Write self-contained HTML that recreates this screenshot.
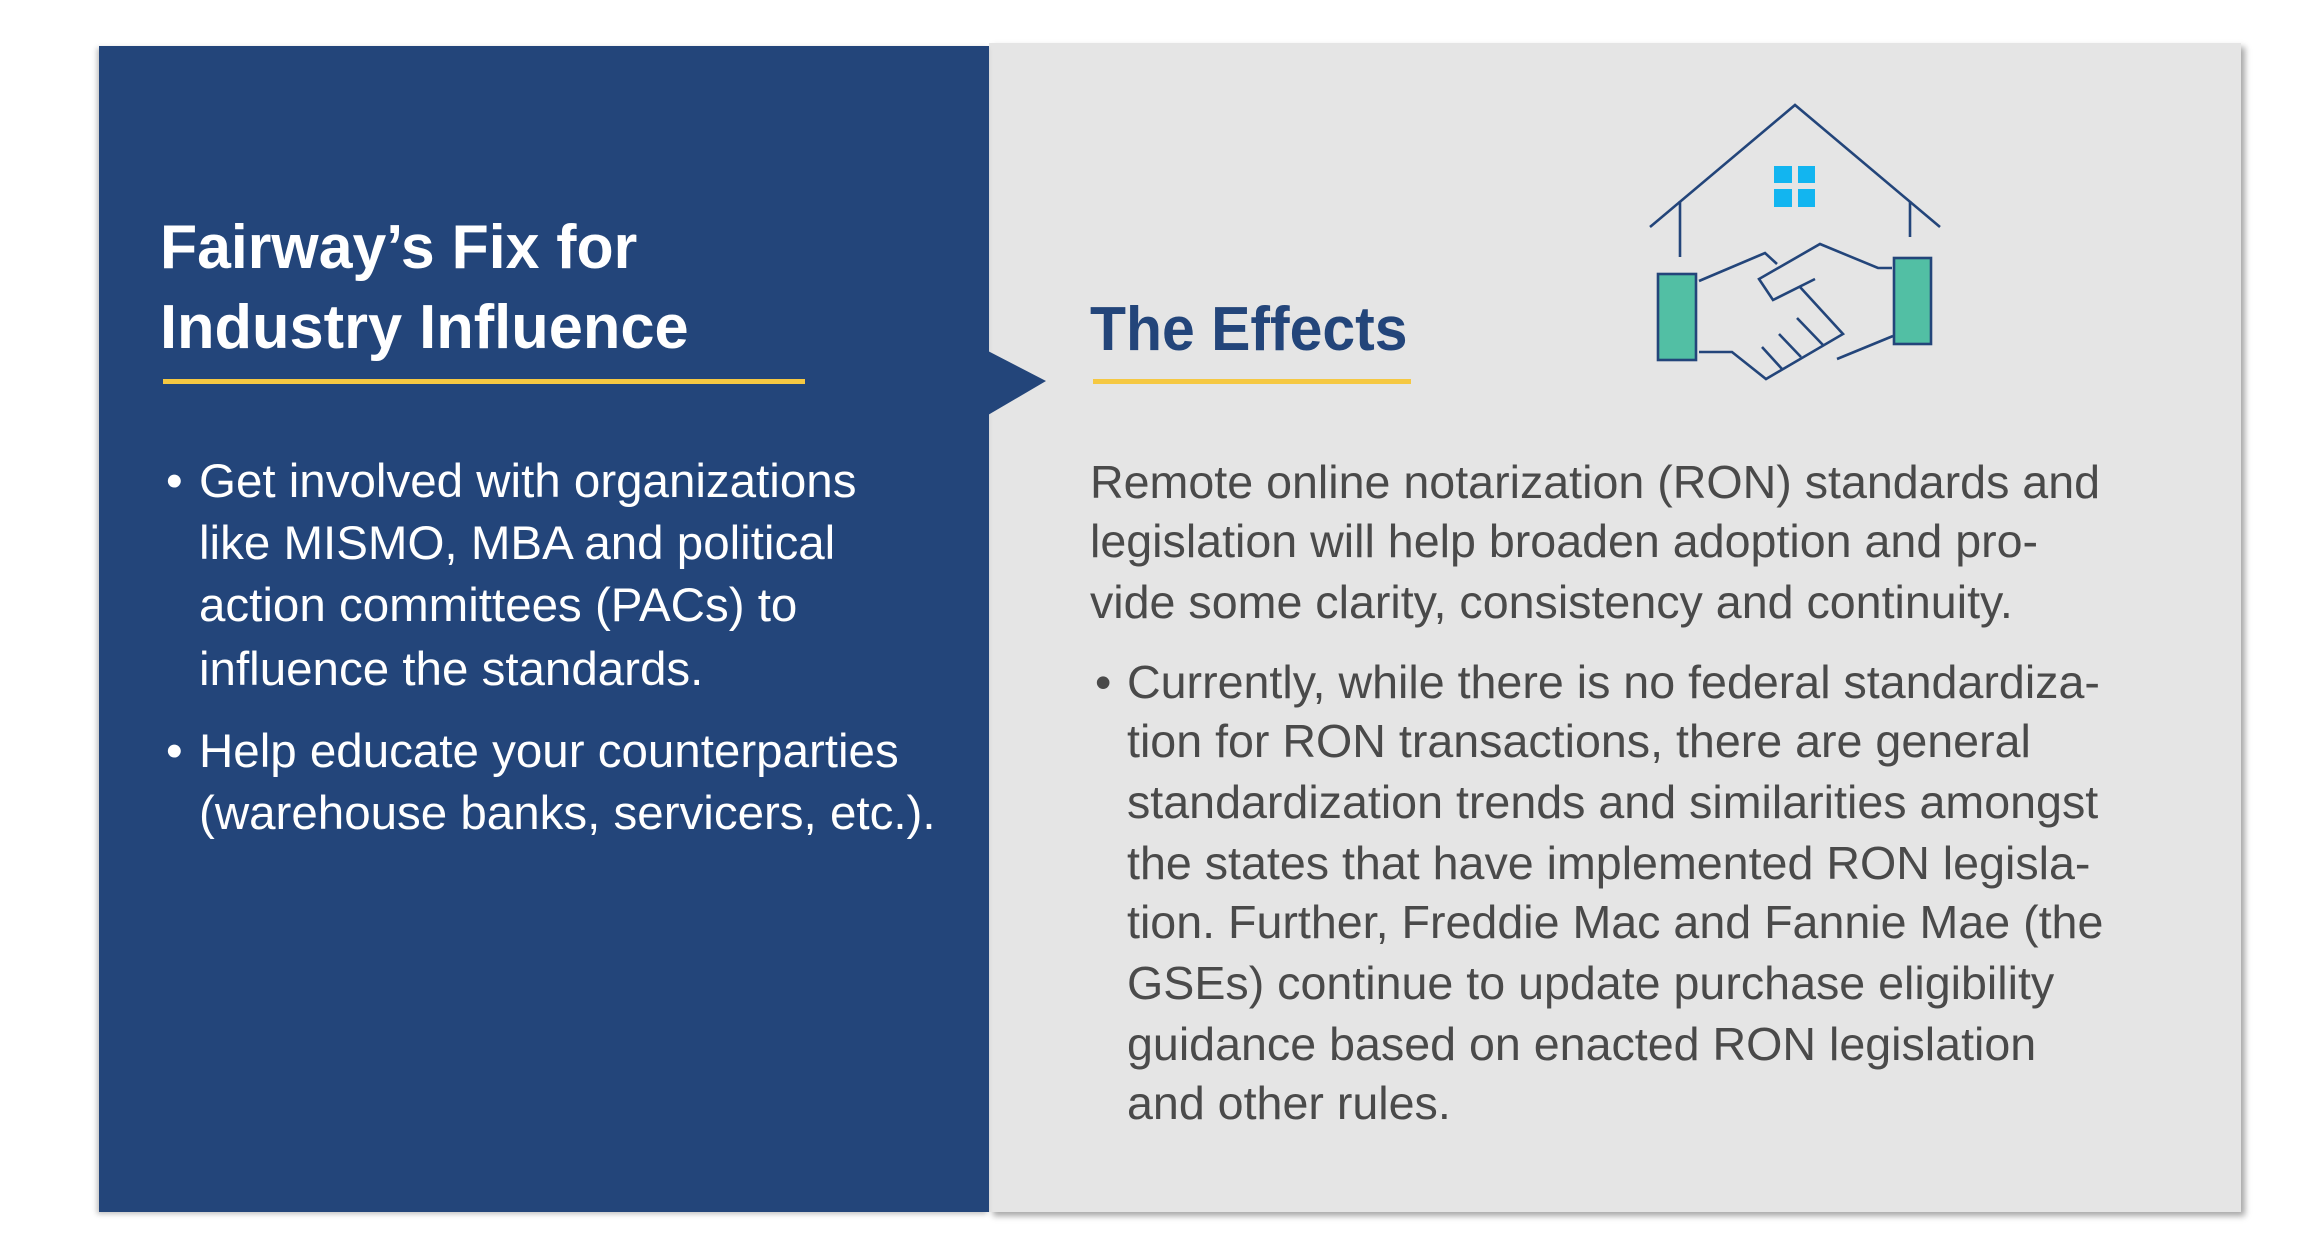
<!DOCTYPE html>
<html><head><meta charset="utf-8"><style>
*{margin:0;padding:0}
body{width:2314px;height:1256px;background:#fff;position:relative;overflow:hidden;font-family:"Liberation Sans",sans-serif}
.l{position:absolute;white-space:nowrap;line-height:60px;height:60px}
.w{color:#fff;font-size:47.5px}
.g{color:#4a4a4a;font-size:46.6px}
.t{position:absolute;white-space:nowrap;font-weight:bold;font-size:62px;line-height:80px;transform-origin:0 50%}
</style></head><body>
<div style="position:absolute;left:989px;top:43px;width:1252px;height:1169px;background:#e5e5e5;box-shadow:4px 4px 6px rgba(0,0,0,.35)"></div>
<div style="position:absolute;left:99px;top:46px;width:890px;height:1166px;background:#23457a;box-shadow:-2px 2px 5px rgba(0,0,0,.25)"></div>
<svg style="position:absolute;left:0;top:0" width="2314" height="1256">
<polygon points="988,351 1046,381 988,415" fill="#23457a"/>
<rect x="163" y="379" width="642" height="5" fill="#f5c842"/>
<rect x="1093" y="379" width="318" height="5" fill="#f5c842"/>
<g stroke="#23457a" stroke-width="2.6" fill="none">
<polyline points="1650,227 1795,105 1940,227"/>
<line x1="1680" y1="201" x2="1680" y2="257"/>
<line x1="1910" y1="201" x2="1910" y2="237"/>
<rect x="1658" y="274" width="38" height="86" fill="#52bfa4"/>
<rect x="1894" y="258" width="37" height="86" fill="#52bfa4"/>
<polyline points="1699,281 1765,253 1777,264"/>
<polyline points="1892,268 1878,268 1820,244 1759,279 1773,300 1815,279"/>
<polyline points="1800,287 1843,334 1766,379 1732,352 1699,352"/>
<line x1="1762" y1="347" x2="1782" y2="369"/>
<line x1="1779" y1="334" x2="1801" y2="357"/>
<line x1="1797" y1="318" x2="1823" y2="345"/>
<line x1="1837" y1="359" x2="1893" y2="336"/>
</g>
<g fill="#12b5f0">
<rect x="1774" y="166" width="18" height="17"/><rect x="1798" y="166" width="17" height="17"/>
<rect x="1774" y="189" width="18" height="18"/><rect x="1798" y="189" width="17" height="18"/>
</g>
</svg>
<div class="t" style="left:160px;top:208px;color:#fff;transform:scaleX(.98)">Fairway’s Fix for</div>
<div class="t" style="left:160px;top:288px;color:#fff;transform:scaleX(.99)">Industry Influence</div>
<div class="t" style="left:1090px;top:290px;color:#23457a;transform:scaleX(.95)">The Effects</div>

<div class="l w" style="left:166px;top:452px">•</div>
<div class="l w" style="left:199px;top:452px">Get involved with organizations</div>
<div class="l w" style="left:199px;top:514px">like MISMO, MBA and political</div>
<div class="l w" style="left:199px;top:576px">action committees (PACs) to</div>
<div class="l w" style="left:199px;top:640px">influence the standards.</div>
<div class="l w" style="left:166px;top:722px">•</div>
<div class="l w" style="left:199px;top:722px">Help educate your counterparties</div>
<div class="l w" style="left:199px;top:784px">(warehouse banks, servicers, etc.).</div>

<div class="l g" style="left:1090px;top:452px">Remote online notarization (RON) standards and</div>
<div class="l g" style="left:1090px;top:511px">legislation will help broaden adoption and pro-</div>
<div class="l g" style="left:1090px;top:572px">vide some clarity, consistency and continuity.</div>
<div class="l g" style="left:1095px;top:652px">•</div>
<div class="l g" style="left:1127px;top:652px">Currently, while there is no federal standardiza-</div>
<div class="l g" style="left:1127px;top:711px">tion for RON transactions, there are general</div>
<div class="l g" style="left:1127px;top:772px">standardization trends and similarities amongst</div>
<div class="l g" style="left:1127px;top:833px">the states that have implemented RON legisla-</div>
<div class="l g" style="left:1127px;top:892px">tion. Further, Freddie Mac and Fannie Mae (the</div>
<div class="l g" style="left:1127px;top:953px">GSEs) continue to update purchase eligibility</div>
<div class="l g" style="left:1127px;top:1014px">guidance based on enacted RON legislation</div>
<div class="l g" style="left:1127px;top:1073px">and other rules.</div>
</body></html>
